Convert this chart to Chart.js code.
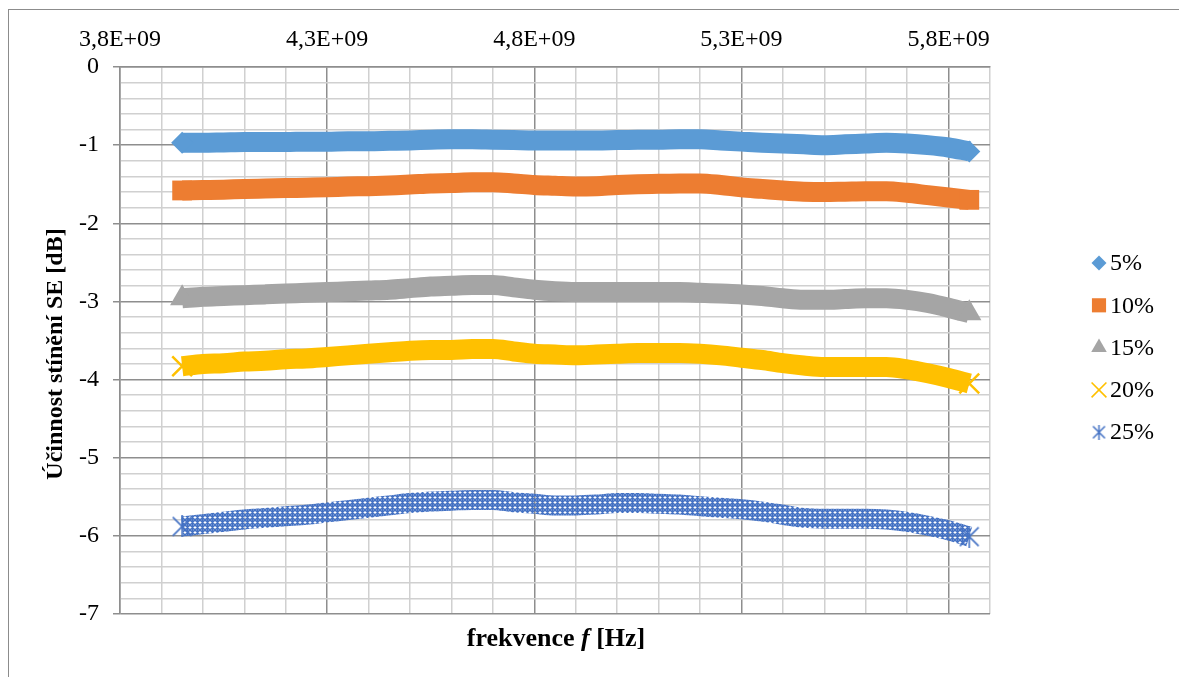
<!DOCTYPE html>
<html>
<head>
<meta charset="utf-8">
<script src="https://cdn.jsdelivr.net/npm/chart.js@4.4.0/dist/chart.umd.min.js"></script>
<style>
  html, body { margin: 0; padding: 0; background: #fff; overflow: hidden; }
  #frame { position: absolute; left: 8px; top: 9px; width: 1300px; height: 800px;
           border-left: 1px solid #8c8c8c; border-top: 1px solid #8c8c8c; }
  #chart { position: absolute; left: 0; top: 0; }
</style>
</head>
<body>
<div id="frame"></div>
<canvas id="chart" width="1179" height="677"></canvas>
<script>
/* SE vs frequency, five shielding variants */
const freqs = [3.95e9, 4.00e9, 4.05e9, 4.10e9, 4.15e9, 4.20e9, 4.25e9, 4.30e9, 4.35e9, 4.40e9,
  4.45e9, 4.50e9, 4.55e9, 4.60e9, 4.65e9, 4.70e9, 4.75e9, 4.80e9, 4.85e9, 4.90e9,
  4.95e9, 5.00e9, 5.05e9, 5.10e9, 5.15e9, 5.20e9, 5.25e9, 5.30e9, 5.35e9, 5.40e9,
  5.45e9, 5.50e9, 5.55e9, 5.60e9, 5.65e9, 5.70e9, 5.75e9, 5.80e9, 5.85e9];

const se5 = [-0.97, -0.97, -0.965, -0.96, -0.96, -0.96, -0.955, -0.955, -0.95, -0.95,
  -0.945, -0.94, -0.93, -0.925, -0.925, -0.93, -0.935, -0.94, -0.94, -0.94,
  -0.94, -0.935, -0.93, -0.93, -0.925, -0.925, -0.94, -0.955, -0.97, -0.98,
  -0.99, -1.0, -0.99, -0.98, -0.97, -0.98, -1.0, -1.03, -1.08];
const se10 = [-1.58, -1.575, -1.57, -1.56, -1.555, -1.55, -1.545, -1.54, -1.53, -1.525,
  -1.515, -1.505, -1.49, -1.485, -1.475, -1.475, -1.49, -1.51, -1.52, -1.53,
  -1.525, -1.51, -1.50, -1.495, -1.49, -1.49, -1.51, -1.54, -1.56, -1.58,
  -1.595, -1.60, -1.595, -1.59, -1.59, -1.61, -1.64, -1.67, -1.70];
const se15 = [-2.96, -2.94, -2.93, -2.92, -2.91, -2.90, -2.89, -2.88, -2.87, -2.86,
  -2.85, -2.83, -2.81, -2.80, -2.79, -2.79, -2.82, -2.85, -2.87, -2.88,
  -2.88, -2.88, -2.88, -2.88, -2.88, -2.89, -2.90, -2.91, -2.93, -2.96,
  -2.98, -2.98, -2.97, -2.96, -2.96, -2.98, -3.02, -3.08, -3.15];
const se20 = [-3.83, -3.80, -3.79, -3.77, -3.76, -3.74, -3.73, -3.71, -3.69, -3.67,
  -3.65, -3.63, -3.62, -3.62, -3.61, -3.61, -3.64, -3.67, -3.68, -3.69,
  -3.68, -3.67, -3.66, -3.66, -3.66, -3.67, -3.69, -3.72, -3.75, -3.79,
  -3.82, -3.84, -3.84, -3.84, -3.84, -3.87, -3.92, -3.98, -4.05];
const se25 = [-5.88, -5.85, -5.82, -5.79, -5.77, -5.75, -5.73, -5.70, -5.67, -5.64,
  -5.61, -5.58, -5.56, -5.55, -5.54, -5.54, -5.57, -5.59, -5.61, -5.61,
  -5.60, -5.58, -5.58, -5.59, -5.60, -5.62, -5.64, -5.66, -5.69, -5.73,
  -5.77, -5.78, -5.78, -5.78, -5.79, -5.82, -5.87, -5.93, -6.01];

const seriesLabels = ['5%', '10%', '15%', '20%', '25%'];
const xTickValues = [3.8e9, 4.3e9, 4.8e9, 5.3e9, 5.8e9];
const xTickLabels = ['3,8E+09', '4,3E+09', '4,8E+09', '5,3E+09', '5,8E+09'];
const yTickValues = [0, -1, -2, -3, -4, -5, -6, -7];
const yTickLabels = ['0', '-1', '-2', '-3', '-4', '-5', '-6', '-7'];

const SERIF = '"Liberation Serif", "Times New Roman", serif';
const MAJOR = '#8e8e8e', MINOR = '#d0d0d0';

function asterisk(size, color, lw) {
  const c = document.createElement('canvas');
  c.width = size; c.height = size;
  const g = c.getContext('2d');
  const p = lw, q = size - lw, m = size / 2;
  g.strokeStyle = color; g.lineWidth = lw;
  g.beginPath();
  g.moveTo(p, p); g.lineTo(q, q);
  g.moveTo(q, p); g.lineTo(p, q);
  g.moveTo(m, 0); g.lineTo(m, size);
  g.stroke();
  return c;
}

function latticePattern(color) {
  const c = document.createElement('canvas');
  c.width = 5; c.height = 5;
  const g = c.getContext('2d');
  g.strokeStyle = color; g.lineWidth = 1.5;
  g.beginPath();
  g.moveTo(0, 0); g.lineTo(5, 5);
  g.moveTo(5, 0); g.lineTo(0, 5);
  g.moveTo(2.5, 0); g.lineTo(2.5, 5);
  g.stroke();
  return g.createPattern(c, 'repeat');
}

const lastIdx = freqs.length - 1;

function band(label, values, color, stroke, style, radius, legendRadius, pw) {
  return {
    label: label,
    data: freqs.map((f, i) => ({ x: f, y: values[i] })),
    showLine: true,
    borderColor: stroke,
    borderWidth: 20,
    borderCapStyle: 'butt',
    borderJoinStyle: 'round',
    cubicInterpolationMode: 'monotone',
    pointStyle: style,
    pointRadius: c => (c.dataIndex === 0 || c.dataIndex === lastIdx) ? radius : 0,
    pointHoverRadius: 0,
    pointBackgroundColor: color,
    pointBorderColor: color,
    pointBorderWidth: pw,
    legendRadius: legendRadius
  };
}

const starBig = asterisk(22, '#4472C4', 1.6);
const starSmall = asterisk(15, '#4472C4', 1.5);

const legendStyles = ['rectRot', 'rect', 'triangle', 'crossRot', starSmall];

const datasets = [
  band(seriesLabels[0], se5, '#5B9BD5', '#5B9BD5', 'rectRot', 11, 7.5, 0),
  band(seriesLabels[1], se10, '#ED7D31', '#ED7D31', 'rect', 14, 10, 0),
  band(seriesLabels[2], se15, '#A5A5A5', '#A5A5A5', 'triangle', 14, 9, 0),
  band(seriesLabels[3], se20, '#FFC000', '#FFC000', 'crossRot', 14, 10.5, 2.5),
  band(seriesLabels[4], se25, '#4472C4', latticePattern('#4472C4'), starBig, 11, 7, 0)
];

function isMajorX(v) { return Math.round(v / 1e8) % 5 === 3; }
function isMajorY(v) { return Math.abs(v - Math.round(v)) < 1e-6; }

const overlay = {
  id: 'overlay',
  afterDraw(chart) {
    const ctx = chart.ctx;
    ctx.save();
    ctx.fillStyle = '#000';
    // y title
    ctx.save();
    ctx.translate(56, 354);
    ctx.rotate(-Math.PI / 2);
    ctx.font = 'bold 24px ' + SERIF;
    ctx.textAlign = 'center';
    ctx.textBaseline = 'middle';
    ctx.fillText('Účinnost stínění SE [dB]', 0, 0);
    ctx.restore();
    // x title at bottom, mixed italic
    const parts = [['frekvence ', 'bold'], ['f', 'italic bold'], [' [Hz]', 'bold']];
    let total = 0;
    parts.forEach(p => { ctx.font = p[1] + ' 26px ' + SERIF; total += ctx.measureText(p[0]).width; });
    let x = 556 - total / 2;
    ctx.textBaseline = 'alphabetic';
    ctx.textAlign = 'left';
    parts.forEach(p => {
      ctx.font = p[1] + ' 26px ' + SERIF;
      ctx.fillText(p[0], x, 646);
      x += ctx.measureText(p[0]).width;
    });
    // legend
    chart.data.datasets.forEach((ds, i) => {
      const y = 263 + i * 42.3;
      ctx.fillStyle = ds.pointBackgroundColor;
      ctx.strokeStyle = ds.pointBorderColor;
      ctx.lineWidth = i === 3 ? 1.6 : 1;
      Chart.helpers.drawPoint(ctx, {
        pointStyle: legendStyles[i], rotation: 0,
        radius: ds.legendRadius, borderWidth: i === 3 ? 1.6 : 0
      }, 1099, y);
      ctx.fillStyle = '#000';
      ctx.font = '24px ' + SERIF;
      ctx.textBaseline = 'middle';
      ctx.fillText(ds.label, 1110, y + 1);
    });
    ctx.restore();
  }
};

new Chart(document.getElementById('chart'), {
  type: 'scatter',
  data: { datasets: datasets },
  options: {
    responsive: false,
    animation: false,
    events: [],
    layout: { padding: { left: 0, top: 0, right: 189, bottom: 63 } },
    plugins: { legend: { display: false }, tooltip: { enabled: false } },
    scales: {
      x: {
        type: 'linear',
        position: 'top',
        min: 3.8e9,
        max: 5.9e9,
        afterFit: s => { s.height = 67; },
        ticks: {
          stepSize: 1e8,
          autoSkip: false,
          maxRotation: 0,
          padding: 13,
          color: '#000',
          font: { family: SERIF, size: 24 },
          callback: v => {
            const k = xTickValues.findIndex(t => Math.abs(t - v) < 1e3);
            return k >= 0 ? xTickLabels[k] : '';
          }
        },
        grid: {
          drawTicks: false,
          lineWidth: 1.5,
          color: c => (c.tick && isMajorX(c.tick.value)) ? MAJOR : MINOR
        },
        border: { color: MAJOR, width: 1.5 }
      },
      y: {
        min: -7,
        max: 0,
        afterFit: s => { s.width = 120; },
        ticks: {
          stepSize: 0.2,
          autoSkip: false,
          padding: 14,
          color: '#000',
          font: { family: SERIF, size: 24 },
          callback: v => {
            const k = yTickValues.findIndex(t => Math.abs(t - v) < 1e-6);
            return k >= 0 ? yTickLabels[k] : '';
          }
        },
        grid: {
          tickLength: 7,
          lineWidth: 1.5,
          color: c => (c.tick && isMajorY(c.tick.value)) ? MAJOR : MINOR,
          tickColor: c => (c.tick && isMajorY(c.tick.value)) ? MAJOR : 'rgba(0,0,0,0)'
        },
        border: { color: MAJOR, width: 1.5 }
      }
    }
  },
  plugins: [overlay]
});
</script>
</body>
</html>
